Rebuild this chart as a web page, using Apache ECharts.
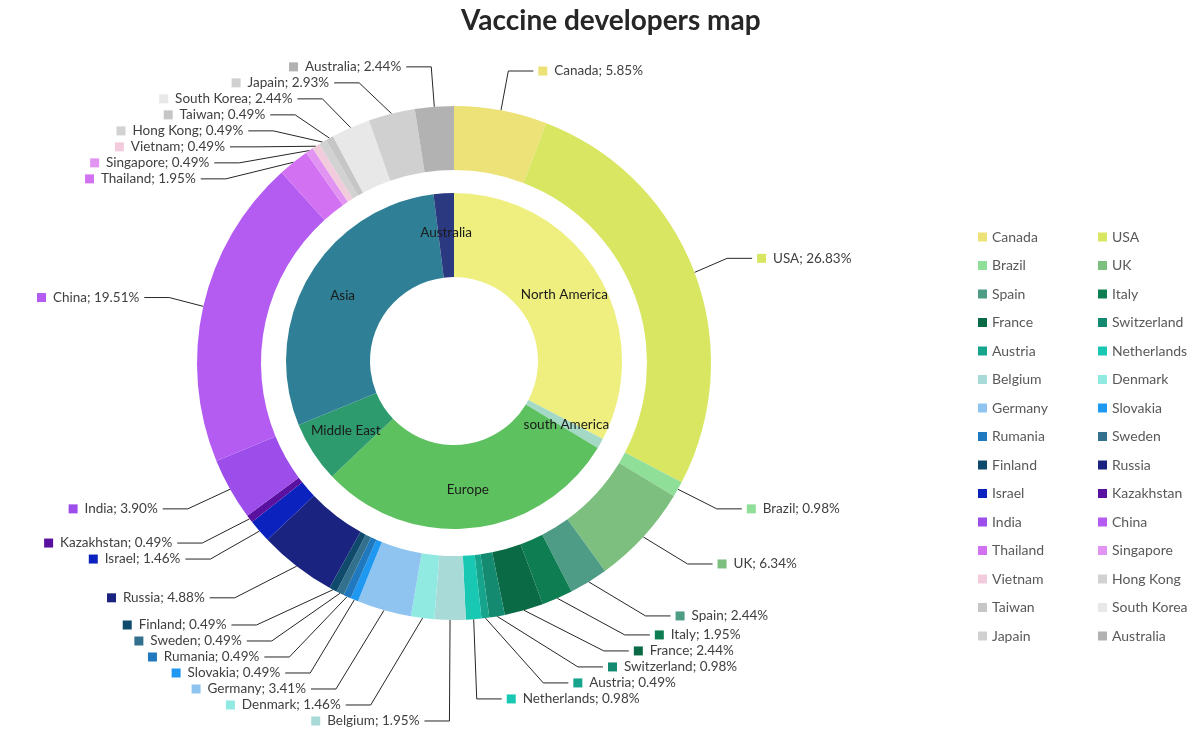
<!DOCTYPE html>
<html>
<head>
<meta charset="utf-8">
<script src="https://cdn.jsdelivr.net/npm/echarts@6/dist/echarts.min.js"></script>
<style>
html,body{margin:0;padding:0;background:#fff;}
#chart{width:1198px;height:742px;}
</style>
</head>
<body>
<div id="chart"></div>
<script>
// Outer ring: countries (number of developers)
var countries = ['Canada','USA','Brazil','UK','Spain','Italy','France','Switzerland','Austria','Netherlands','Belgium','Denmark','Germany','Slovakia','Rumania','Sweden','Finland','Russia','Israel','Kazakhstan','India','China','Thailand','Singapore','Vietnam','Hong Kong','Taiwan','South Korea','Japain','Australia'];
var countryValues = [12,55,2,13,5,4,5,2,1,2,4,3,7,1,1,1,1,10,3,1,8,40,4,1,1,1,1,5,6,5];
var countryColors = ['#ECE277','#D8E661','#90DF98','#7DBF7E','#4F9C86','#0E7E52','#0B6A46','#148A70','#16A48C','#18C8B2','#A8DAD8','#90EAE2','#90C4F0','#1F98F2','#2078BE','#32708E','#0F4A6C','#1B2380','#0B22BE','#5A11A0','#9C4DEA','#B45CF2','#D272F2','#E294F2','#F2CCDC','#D2D2D2','#C6C6C6','#E8E8E8','#D0D0D0','#B2B2B2'];

// Inner ring: regions
var regions = ['North America','south America','Europe','Middle East','Asia','Australia'];
var regionValues = [67,2,60,12,60,4];
var regionColors = ['#EEEF7E','#A4D9C6','#5EC160','#2E9B6E','#2F8096','#2B3A80'];

var total = countryValues.reduce(function(a,b){return a+b;},0);

var outerData = countries.map(function(n,i){
  return {
    name: n,
    value: countryValues[i],
    itemStyle: {color: countryColors[i]},
    label: {rich: {sq: {width: 9, height: 9, backgroundColor: countryColors[i]}}}
  };
});
var innerData = regions.map(function(n,i){
  return {name: n, value: regionValues[i], itemStyle: {color: regionColors[i]}};
});

var col1 = countries.filter(function(_,i){return i%2===0;});
var col2 = countries.filter(function(_,i){return i%2===1;});

var font = 'Lato, "Open Sans", sans-serif';
var legendBase = {
  orient: 'vertical',
  top: 229,
  padding: 0,
  icon: 'rect',
  itemWidth: 9,
  itemHeight: 9,
  itemGap: 12.5,
  selectedMode: false,
  textStyle: {fontSize: 14, color: '#595959', lineHeight: 16, fontFamily: font}
};

var chart = echarts.init(document.getElementById('chart'));
chart.setOption({
  backgroundColor: '#ffffff',
  animation: false,
  title: {
    text: 'Vaccine developers map',
    left: 456,
    top: 2,
    textStyle: {fontSize: 28, fontWeight: 'bold', color: '#262626', fontFamily: font}
  },
  legend: [
    Object.assign({}, legendBase, {left: 978, data: col1}),
    Object.assign({}, legendBase, {left: 1098, data: col2})
  ],
  series: [
    {
      type: 'pie',
      name: 'Countries',
      center: [454, 363],
      radius: [193, 257],
      startAngle: 90,
      clockwise: true,
      avoidLabelOverlap: true,
      emphasis: {scale: false},
      data: outerData,
      label: {
        show: true,
        position: 'outside',
        fontSize: 13.5,
        color: '#404040',
        fontFamily: font,
        formatter: function(p){
          return '{sq|}  ' + p.name + '; ' + (p.value / total * 100).toFixed(2) + '%';
        }
      },
      labelLine: {
        show: true,
        length: 40,
        length2: 25,
        lineStyle: {color: '#262626', width: 1}
      }
    },
    {
      type: 'pie',
      name: 'Regions',
      center: [454, 361],
      radius: [84, 168],
      startAngle: 90,
      clockwise: true,
      emphasis: {scale: false},
      data: innerData,
      label: {
        show: true,
        position: 'inside',
        fontSize: 13.5,
        color: '#1a1a1a',
        fontFamily: font,
        formatter: '{b}'
      },
      labelLine: {show: false}
    }
  ]
});
</script>
</body>
</html>
